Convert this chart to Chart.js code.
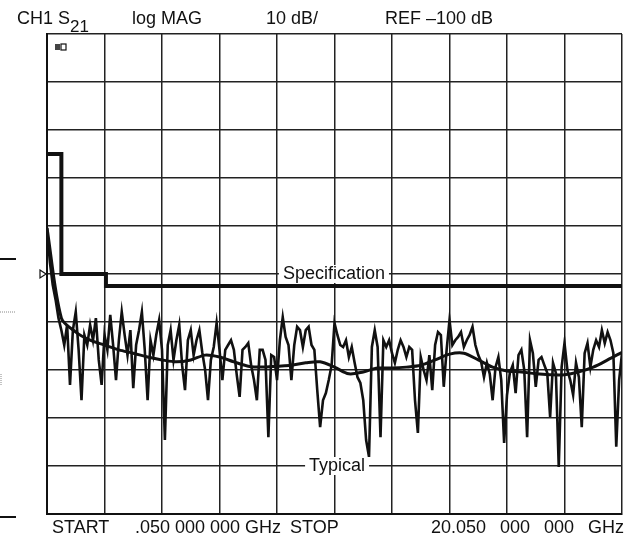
<!DOCTYPE html>
<html>
<head>
<meta charset="utf-8">
<script src="https://cdn.jsdelivr.net/npm/chart.js@4/dist/chart.umd.min.js"></script>
<style>
  body { margin: 0; background: #fff; }
  #wrap { position: relative; width: 632px; height: 538px; font-family: "Liberation Sans", Arial, sans-serif; color: #111; }
  canvas { position: absolute; left: 0; top: 0; }
  .txt { position: absolute; font-size: 18px; line-height: 18px; white-space: pre; }
  .sub { font-size: 17px; position: relative; top: 8px; }
</style>
</head>
<body>
<div id="wrap">
  <canvas id="chart" width="632" height="538"></canvas>
  <div class="txt" style="left:17px;top:9px">CH1 S<span class="sub">21</span></div>
  <div class="txt" style="left:132px;top:9px">log MAG</div>
  <div class="txt" style="left:266px;top:9px">10 dB/</div>
  <div class="txt" style="left:385px;top:9px">REF –100 dB</div>
  <div class="txt" style="left:52px;top:518px">START</div>
  <div class="txt" style="left:135px;top:518px">.050 000 000 GHz</div>
  <div class="txt" style="left:290px;top:518px">STOP</div>
  <div class="txt" style="left:431px;top:518px;word-spacing:9px">20.050 000 000 GHz</div>
</div>
<script>
// sweep: 201 points, .05 to 20.05 GHz
const START_GHZ = 0.05;
const STOP_GHZ = 20.05;
const SWEEP_STEP = 0.1;
const SMOOTH_STEP = 0.5;

// vertical grid: 2 GHz/div
const freqGrid = [0.05, 2.05, 4.05, 6.05, 8.05, 10.05, 12.05, 14.05, 16.05, 18.05, 20.05];

// REF -100 dB at centre, 10 dB/div
const DB_MIN = -150;
const DB_MAX = -50;
const REF_DB = -100;

// raw S21 sweep (dB)
const typicalDb = [
  -90.4, -97.5, -102.3, -105.4, -109.2, -111.7, -114.8, -110.6, -123.1, -111.7,
  -107.9, -115.8, -126.3, -112.7, -114.8, -110.6, -113.8, -109.2, -117.9, -123.1,
  -112.7, -115.8, -108.5, -114.8, -122.1, -113.8, -107.9, -112.7, -116.9, -111.7,
  -123.8, -114.8, -111.7, -107.9, -115.8, -126.3, -113.8, -116.9, -112.7, -109.6,
  -115.8, -134.6, -114.8, -111.7, -117.9, -113.8, -110.6, -119.0, -124.2, -113.8,
  -111.7, -116.9, -113.8, -111.7, -116.3, -120.0, -126.3, -117.9, -115.2, -110.2,
  -115.8, -122.1, -115.8, -114.8, -113.8, -115.8, -121.0, -125.6, -115.8, -115.2,
  -114.4, -119.0, -122.1, -126.3, -115.8, -115.8, -117.9, -134.0, -116.9, -117.3,
  -122.1, -113.8, -109.0, -113.1, -114.8, -122.1, -114.8, -111.0, -111.7, -115.2,
  -111.7, -111.0, -114.8, -115.8, -124.2, -131.9, -126.3, -124.8, -122.1, -119.0,
  -110.2, -112.7, -114.8, -115.2, -113.8, -117.3, -115.2, -118.5, -121.5, -122.7,
  -126.3, -134.6, -138.1, -115.2, -111.7, -115.2, -134.0, -113.8, -115.2, -113.8,
  -116.5, -118.5, -115.8, -113.8, -115.2, -117.3, -115.2, -115.8, -126.3, -133.1,
  -117.3, -120.0, -122.1, -116.9, -124.2, -114.8, -112.1, -112.7, -123.5, -115.8,
  -109.6, -114.8, -113.8, -113.1, -112.1, -115.2, -113.8, -112.7, -111.0, -114.8,
  -116.9, -118.3, -121.5, -118.5, -120.8, -126.3, -119.4, -117.3, -122.1, -135.2,
  -125.2, -120.6, -119.0, -124.8, -116.9, -115.8, -120.0, -134.0, -113.8, -116.5,
  -123.5, -117.9, -117.3, -119.0, -120.6, -129.8, -118.5, -120.6, -140.2, -119.4,
  -114.4, -120.0, -122.1, -125.2, -118.5, -121.5, -131.9, -116.5, -114.4, -119.4,
  -115.8, -113.8, -115.2, -111.7, -114.4, -112.1, -113.8, -116.5, -136.0, -122.1,
  -116.5,
];

// smoothed trace (dB), every 0.5 GHz
const smoothedDb = [
  -90.4, -109.2, -112.1, -113.8, -114.8, -115.8, -116.5, -117.3, -117.9, -118.3,
  -117.9, -116.9, -117.3, -118.3, -119.2, -119.4, -119.2, -119.0, -118.5, -118.3,
  -119.4, -120.8, -120.4, -119.6, -119.6, -119.4, -119.0, -117.9, -116.7, -116.5,
  -117.9, -119.4, -120.2, -120.4, -120.8, -121.0, -121.0, -120.4, -119.4, -117.9,
  -116.3,
];

// specification limit: breakpoints (GHz) and level held after each
const specFreq = [0.05, 0.55, 2.1, 20.05];
const specDb = [-75, -100, -102.5, -102.5];

const labelText = ["Specification", "Typical"];
const labelFreq = [10.03, 10.14];
const labelDb = [-100, -140];

const INK = "#111";

const toPoints = (values, step) =>
  values.map((y, i) => ({ x: START_GHZ + i * step, y }));

const tracePlugin = {
  id: "traceLabels",
  afterDatasetsDraw(chart) {
    const { ctx, scales, chartArea } = chart;
    ctx.save();
    ctx.font = '18px "Liberation Sans", Arial, sans-serif';
    ctx.textAlign = "center";
    ctx.textBaseline = "middle";
    labelText.forEach((text, i) => {
      const x = scales.x.getPixelForValue(labelFreq[i]);
      const y = scales.y.getPixelForValue(labelDb[i]);
      const w = ctx.measureText(text).width + 8;
      ctx.fillStyle = "#fff";
      ctx.fillRect(x - w / 2, y - 9, w, 18);
      ctx.fillStyle = INK;
      ctx.fillText(text, x, y);
    });

    // reference position marker
    const ry = scales.y.getPixelForValue(REF_DB);
    const lx = chartArea.left;
    ctx.strokeStyle = INK;
    ctx.lineWidth = 1.2;
    ctx.beginPath();
    ctx.moveTo(lx - 7, ry - 4);
    ctx.lineTo(lx - 1, ry);
    ctx.lineTo(lx - 7, ry + 4);
    ctx.closePath();
    ctx.stroke();

    // small display annotation box, top-left of graticule
    ctx.fillStyle = "#444";
    ctx.fillRect(lx + 8, chartArea.top + 10, 5, 6);
    ctx.strokeRect(lx + 14, chartArea.top + 10, 5, 6);

    // marks left of the graticule on the page
    ctx.lineWidth = 2;
    ctx.beginPath();
    ctx.moveTo(0, 259);
    ctx.lineTo(16, 259);
    ctx.moveTo(0, 517);
    ctx.lineTo(16, 517);
    ctx.stroke();
    ctx.strokeStyle = "#888";
    ctx.lineWidth = 1;
    ctx.setLineDash([1, 1]);
    ctx.beginPath();
    ctx.moveTo(0, 312);
    ctx.lineTo(15, 312);
    ctx.moveTo(1, 374);
    ctx.lineTo(1, 386);
    ctx.stroke();
    ctx.restore();
  },
};

new Chart(document.getElementById("chart"), {
  type: "line",
  data: {
    datasets: [
      {
        label: "Specification",
        data: specFreq.map((x, i) => ({ x, y: specDb[i] })),
        stepped: "before",
        borderColor: INK,
        borderWidth: 4,
        pointRadius: 0,
      },
      {
        label: "Smoothed",
        data: toPoints(smoothedDb, SMOOTH_STEP),
        borderColor: INK,
        borderWidth: 3,
        pointRadius: 0,
        tension: 0.3,
      },
      {
        label: "Typical",
        data: toPoints(typicalDb, SWEEP_STEP),
        borderColor: INK,
        borderWidth: 2.6,
        borderJoinStyle: "miter",
        pointRadius: 0,
      },
    ],
  },
  options: {
    responsive: false,
    animation: false,
    layout: { padding: { left: 47, top: 34, right: 10, bottom: 24 } },
    plugins: { legend: { display: false }, tooltip: { enabled: false } },
    scales: {
      x: {
        type: "linear",
        min: START_GHZ,
        max: STOP_GHZ,
        afterBuildTicks: (scale) => {
          scale.ticks = freqGrid.map((value) => ({ value }));
        },
        ticks: { display: false },
        grid: { color: "#222", lineWidth: 1.5, drawTicks: false },
        border: { color: INK, width: 2 },
      },
      y: {
        min: DB_MIN,
        max: DB_MAX,
        ticks: { display: false, stepSize: 10 },
        grid: { color: "#222", lineWidth: 1.5, drawTicks: false },
        border: { color: INK, width: 2 },
      },
    },
  },
  plugins: [tracePlugin],
});
</script>
</body>
</html>
